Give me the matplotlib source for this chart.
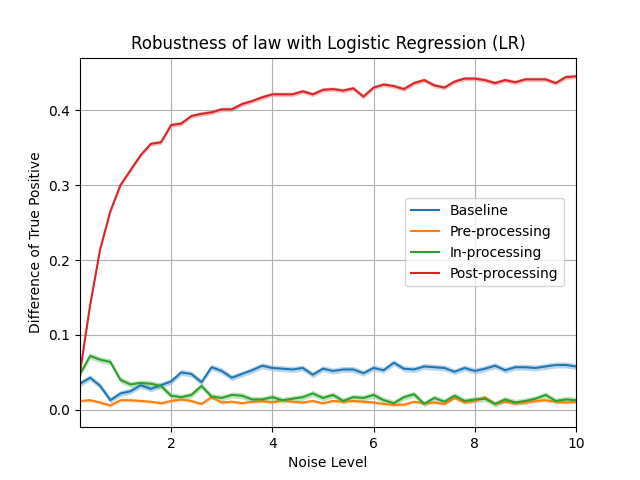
import numpy as np
import matplotlib
matplotlib.use("Agg")
import matplotlib.pyplot as plt

noise = [round(0.2 * i, 1) for i in range(1, 51)]
baseline = [0.035,0.043,0.032,0.013,0.022,0.025,0.033,0.028,0.033,0.038,0.050,0.048,0.037,0.057,0.052,0.043,0.048,0.053,0.059,0.056,
            0.055,0.054,0.056,0.047,0.055,0.052,0.054,0.054,0.049,0.056,0.053,0.063,0.055,0.054,0.058,0.057,0.056,0.051,0.056,0.052,
            0.055,0.059,0.053,0.057,0.057,0.056,0.058,0.060,0.060,0.058]
pre = [0.012,0.013,0.010,0.006,0.013,0.013,0.012,0.011,0.009,0.012,0.014,0.012,0.008,0.017,0.010,0.011,0.009,0.011,0.012,0.010,
       0.013,0.011,0.010,0.012,0.009,0.012,0.011,0.012,0.011,0.010,0.008,0.007,0.007,0.011,0.009,0.010,0.008,0.016,0.010,0.012,
       0.017,0.008,0.011,0.009,0.010,0.012,0.013,0.011,0.010,0.011]
inproc = [0.048,0.072,0.067,0.064,0.040,0.034,0.036,0.035,0.032,0.019,0.017,0.020,0.032,0.018,0.016,0.020,0.019,0.014,0.014,0.017,
          0.013,0.015,0.017,0.022,0.016,0.020,0.012,0.017,0.016,0.020,0.013,0.009,0.017,0.021,0.008,0.016,0.011,0.019,0.012,0.014,
          0.015,0.008,0.014,0.010,0.012,0.015,0.020,0.012,0.014,0.013]
post = [0.050,0.140,0.215,0.265,0.300,0.320,0.340,0.355,0.357,0.380,0.382,0.392,0.395,0.397,0.401,0.401,0.408,0.412,0.417,0.421,
        0.421,0.421,0.425,0.421,0.427,0.428,0.426,0.429,0.418,0.430,0.434,0.432,0.428,0.436,0.440,0.433,0.430,0.438,0.442,0.442,
        0.440,0.436,0.440,0.437,0.441,0.441,0.441,0.436,0.444,0.445]
band = {"Baseline": 0.004, "Pre-processing": 0.002, "In-processing": 0.004, "Post-processing": 0.003}

series = [("Baseline", baseline, "#1f77b4"), ("Pre-processing", pre, "#ff7f0e"),
          ("In-processing", inproc, "#2ca02c"), ("Post-processing", post, "#d62728")]

fig, ax = plt.subplots(figsize=(6.4, 4.8), dpi=100)
x = np.array(noise)
for name, vals, c in series:
    v = np.array(vals)
    ax.plot(x, v, color=c, label=name, lw=1.5)
    ax.fill_between(x, v - band[name], v + band[name], color=c, alpha=0.3, lw=0)
ax.set_xlim(0.2, 10)
ax.set_ylim(-0.023, 0.47)
ax.set_xticks([2, 4, 6, 8, 10])
ax.grid(True)
ax.set_xlabel("Noise Level")
ax.set_ylabel("Difference of True Positive")
ax.set_title("Robustness of law with Logistic Regression (LR)")
ax.legend(loc="center right", bbox_to_anchor=(0.99, 0.5))
fig.savefig("out.png")
